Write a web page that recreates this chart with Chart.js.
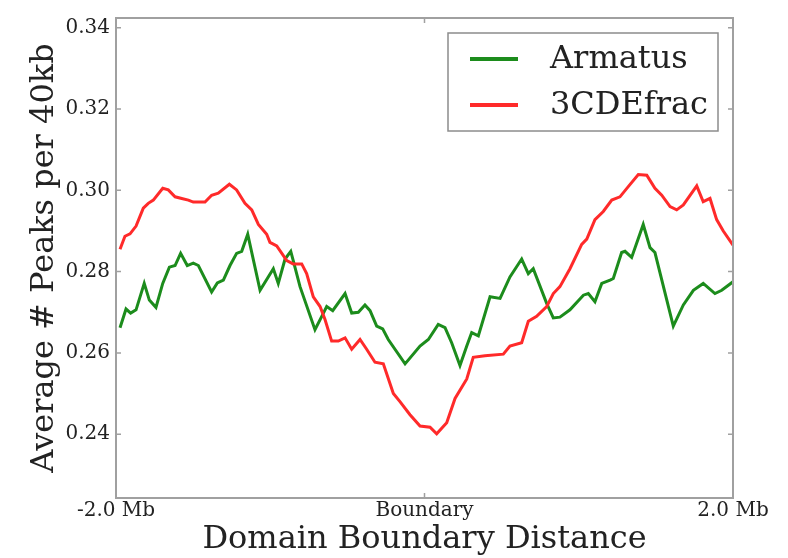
<!DOCTYPE html>
<html>
<head>
<meta charset="utf-8">
<script src="https://cdn.jsdelivr.net/npm/chart.js@4.4.1/dist/chart.umd.min.js"></script>
<style>
  html, body { margin: 0; padding: 0; background: #ffffff; }
  canvas { display: block; filter: blur(0.5px); }
</style>
</head>
<body>
<canvas id="chart" width="788" height="558"></canvas>
<script>
// Distance from the domain boundary (Mb) and average peak counts per 40kb bin
const armatusDistance = [
  -1.974, -1.935, -1.905, -1.870, -1.817, -1.784, -1.741, -1.697, -1.654, -1.617,
  -1.581, -1.538, -1.499, -1.466, -1.380, -1.343, -1.304, -1.261, -1.218, -1.185,
  -1.146, -1.066, -0.980, -0.948, -0.904, -0.867, -0.851, -0.807, -0.710, -0.666,
  -0.634, -0.595, -0.515, -0.472, -0.429, -0.386, -0.353, -0.310, -0.271, -0.235,
  -0.126, -0.029, 0.025, 0.089, 0.133, 0.176, 0.230, 0.274, 0.306, 0.349,
  0.425, 0.490, 0.554, 0.630, 0.673, 0.705, 0.792, 0.835, 0.878, 0.943,
  1.030, 1.062, 1.105, 1.149, 1.203, 1.224, 1.278, 1.300, 1.343, 1.418,
  1.462, 1.494, 1.613, 1.678, 1.743, 1.807, 1.883, 1.927, 2.000
];
const armatusPeaks = [
  0.2662, 0.2708, 0.2698, 0.2706, 0.2771, 0.2730, 0.2712, 0.2771, 0.2811, 0.2815,
  0.2845, 0.2815, 0.2821, 0.2815, 0.2750, 0.2772, 0.2779, 0.2815, 0.2845, 0.2850,
  0.2892, 0.2754, 0.2807, 0.2771, 0.2831, 0.2850, 0.2827, 0.2763, 0.2657, 0.2690,
  0.2714, 0.2704, 0.2746, 0.2698, 0.2700, 0.2718, 0.2704, 0.2666, 0.2659, 0.2633,
  0.2573, 0.2617, 0.2633, 0.2670, 0.2662, 0.2625, 0.2569, 0.2617, 0.2650, 0.2642,
  0.2738, 0.2734, 0.2787, 0.2831, 0.2795, 0.2807, 0.2722, 0.2686, 0.2688, 0.2706,
  0.2742, 0.2746, 0.2726, 0.2771, 0.2779, 0.2783, 0.2847, 0.2850, 0.2835, 0.2916,
  0.2859, 0.2847, 0.2666, 0.2718, 0.2754, 0.2771, 0.2746, 0.2754, 0.2775
];
const fracDistance = [
  -1.974, -1.942, -1.909, -1.870, -1.823, -1.791, -1.758, -1.697, -1.661, -1.617,
  -1.574, -1.531, -1.499, -1.423, -1.380, -1.337, -1.265, -1.218, -1.164, -1.120,
  -1.077, -1.023, -1.002, -0.958, -0.893, -0.851, -0.796, -0.764, -0.721, -0.677,
  -0.645, -0.602, -0.559, -0.515, -0.472, -0.418, -0.375, -0.321, -0.267, -0.202,
  -0.159, -0.094, -0.029, 0.036, 0.079, 0.144, 0.198, 0.274, 0.316, 0.392,
  0.511, 0.554, 0.630, 0.673, 0.727, 0.792, 0.835, 0.878, 0.943, 1.019,
  1.052, 1.105, 1.159, 1.214, 1.267, 1.321, 1.386, 1.441, 1.494, 1.538,
  1.592, 1.635, 1.678, 1.765, 1.807, 1.851, 1.894, 1.937, 2.000
];
const fracPeaks = [
  0.2855, 0.2887, 0.2893, 0.2912, 0.2956, 0.2968, 0.2976, 0.3005, 0.3001, 0.2984,
  0.2980, 0.2976, 0.2971, 0.2971, 0.2988, 0.2993, 0.3015, 0.3001, 0.2968, 0.2952,
  0.2916, 0.2892, 0.2872, 0.2863, 0.2827, 0.2819, 0.2819, 0.2795, 0.2738, 0.2714,
  0.2682, 0.2629, 0.2629, 0.2637, 0.2609, 0.2633, 0.2609, 0.2577, 0.2573, 0.2500,
  0.2480, 0.2448, 0.2420, 0.2417, 0.2401, 0.2428, 0.2488, 0.2536, 0.2589, 0.2593,
  0.2597, 0.2617, 0.2625, 0.2678, 0.2690, 0.2714, 0.2746, 0.2763, 0.2807, 0.2867,
  0.2880, 0.2928, 0.2948, 0.2976, 0.2984, 0.3009, 0.3039, 0.3037, 0.3005, 0.2988,
  0.2960, 0.2952, 0.2964, 0.3011, 0.2972, 0.2980, 0.2928, 0.2900, 0.2865
];

const seriesNames = ['Armatus', '3CDEfrac'];
const seriesColors = ['#1c8c1c', '#ff2a2a'];

const xTickValues = [-2, 0, 2];
const xTickLabels = ['-2.0 Mb', 'Boundary', '2.0 Mb'];
const yTickValues = [0.24, 0.26, 0.28, 0.30, 0.32, 0.34];

const SERIF = '"DejaVu Serif", "Liberation Serif", serif';
const TEXT = '#222222';
const FRAME = '#a0a0a0';

function toPoints(xs, ys) {
  return xs.map((x, i) => ({ x: x, y: ys[i] }));
}

// Box around the plot with inward tick marks on all four sides
const framePlugin = {
  id: 'frame',
  afterDatasetsDraw(chart) {
    const { ctx, chartArea: a, scales } = chart;
    ctx.save();
    ctx.strokeStyle = FRAME;
    ctx.lineWidth = 2;
    ctx.strokeRect(a.left, a.top, a.right - a.left, a.bottom - a.top);
    ctx.lineWidth = 1.5;
    ctx.beginPath();
    yTickValues.forEach(v => {
      const y = scales.y.getPixelForValue(v);
      ctx.moveTo(a.left, y); ctx.lineTo(a.left + 5, y);
      ctx.moveTo(a.right, y); ctx.lineTo(a.right - 5, y);
    });
    xTickValues.forEach(v => {
      const x = scales.x.getPixelForValue(v);
      ctx.moveTo(x, a.bottom); ctx.lineTo(x, a.bottom - 5);
      ctx.moveTo(x, a.top); ctx.lineTo(x, a.top + 5);
    });
    ctx.stroke();
    ctx.restore();
  }
};

// Boxed legend in the upper right corner of the plot
const legendPlugin = {
  id: 'boxLegend',
  afterDraw(chart) {
    const { ctx, chartArea: a } = chart;
    const boxRight = a.right - 15, boxTop = a.top + 15;
    const boxW = 270, boxH = 98;
    const boxLeft = boxRight - boxW;
    ctx.save();
    ctx.fillStyle = '#ffffff';
    ctx.fillRect(boxLeft, boxTop, boxW, boxH);
    ctx.strokeStyle = '#8c8c8c';
    ctx.lineWidth = 1.5;
    ctx.strokeRect(boxLeft, boxTop, boxW, boxH);
    ctx.font = '32px ' + SERIF;
    ctx.textBaseline = 'middle';
    ctx.textAlign = 'left';
    chart.data.datasets.forEach((ds, i) => {
      const y = boxTop + 26 + i * 46;
      ctx.strokeStyle = ds.borderColor;
      ctx.lineWidth = 4;
      ctx.beginPath();
      ctx.moveTo(boxLeft + 22, y);
      ctx.lineTo(boxLeft + 70, y);
      ctx.stroke();
      ctx.fillStyle = TEXT;
      ctx.fillText(ds.label, boxLeft + 102, y + 1);
    });
    ctx.restore();
  }
};

new Chart(document.getElementById('chart'), {
  type: 'line',
  data: {
    datasets: [
      {
        label: seriesNames[0],
        data: toPoints(armatusDistance, armatusPeaks),
        borderColor: seriesColors[0],
        borderWidth: 3,
        pointRadius: 0,
        tension: 0,
        fill: false,
        order: 1
      },
      {
        label: seriesNames[1],
        data: toPoints(fracDistance, fracPeaks),
        borderColor: seriesColors[1],
        borderWidth: 3,
        pointRadius: 0,
        tension: 0,
        fill: false,
        order: 0
      }
    ]
  },
  options: {
    responsive: false,
    animation: false,
    devicePixelRatio: 1,
    layout: { padding: { top: 10, right: 55, bottom: 0, left: 0 } },
    plugins: {
      legend: { display: false },
      tooltip: { enabled: false }
    },
    scales: {
      x: {
        type: 'linear',
        min: -2,
        max: 2,
        afterBuildTicks(scale) {
          scale.ticks = xTickValues.map(v => ({ value: v }));
        },
        afterFit(scale) { scale.height = 60; },
        grid: { display: false, drawTicks: false },
        border: { display: false },
        ticks: {
          autoSkip: false,
          maxRotation: 0,
          padding: 1,
          color: TEXT,
          font: { family: SERIF, size: 20 },
          callback(value) {
            const i = xTickValues.indexOf(value);
            return i >= 0 ? xTickLabels[i] : '';
          }
        },
        title: {
          display: true,
          text: 'Domain Boundary Distance',
          color: TEXT,
          font: { family: SERIF, size: 32, lineHeight: 1 },
          padding: { top: 0, bottom: 2 }
        }
      },
      y: {
        type: 'linear',
        min: 0.2243,
        max: 0.3424,
        afterBuildTicks(scale) {
          scale.ticks = yTickValues.map(v => ({ value: v }));
        },
        afterFit(scale) { scale.width = 116; },
        grid: { display: false, drawTicks: false },
        border: { display: false },
        ticks: {
          padding: 6,
          color: TEXT,
          font: { family: SERIF, size: 20 },
          callback(value) { return Number(value).toFixed(2); }
        },
        title: {
          display: true,
          text: 'Average # Peaks per 40kb',
          color: TEXT,
          font: { family: SERIF, size: 32, lineHeight: 1 },
          padding: { top: 29, bottom: 0 }
        }
      }
    }
  },
  plugins: [framePlugin, legendPlugin]
});
</script>
</body>
</html>
